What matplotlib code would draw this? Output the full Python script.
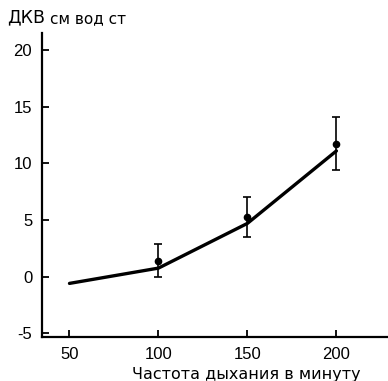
import matplotlib
matplotlib.use("Agg")
import matplotlib.pyplot as plt

plt.rcParams['font.family'] = ['Liberation Sans', 'DejaVu Sans']
plt.rcParams['axes.unicode_minus'] = False

# Breathing rate vs. dead-space pressure
rate = [50, 100, 150, 200]
curve = [-0.6, 0.75, 4.7, 11.1]

pt_rate = [100, 150, 200]
pt_mean = [1.35, 5.3, 11.7]
pt_low = [0.0, 3.5, 9.4]
pt_high = [2.9, 7.0, 14.1]

xticks = [50, 100, 150, 200]
yticks = [-5, 0, 5, 10, 15, 20]

fig = plt.figure(figsize=(3.88, 3.81), dpi=100)
ax = fig.add_axes([0.108, 0.115, 0.892, 0.798])

ax.plot(rate, curve, color='black', lw=2.4, solid_capstyle='round')
yerr = [[m - lo for m, lo in zip(pt_mean, pt_low)],
        [hi - m for m, hi in zip(pt_mean, pt_high)]]
ax.errorbar(pt_rate, pt_mean, yerr=yerr, fmt='o', color='black',
            ms=4.5, elinewidth=1.2, capsize=3, capthick=1.2)

ax.set_xlim(34.5, 229)
ax.set_ylim(-5.35, 21.5)
ax.set_xticks(xticks)
ax.set_yticks(yticks)
ax.tick_params(direction='in', length=5, width=1.3, labelsize=12, pad=7)
for s in ['top', 'right']:
    ax.spines[s].set_visible(False)
for s in ['left', 'bottom']:
    ax.spines[s].set_linewidth(1.6)

fig.text(0.634, 0.018, 'Частота дыхания в минуту', fontsize=11.5,
         ha='center', va='center', family=['DejaVu Sans'])
fig.text(0.018, 0.955, 'ДКВ', fontsize=12.5, va='center', ha='left',
         family=['DejaVu Sans'])
fig.text(0.128, 0.951, 'см вод ст', fontsize=11, va='center', ha='left',
         family=['DejaVu Sans'])

fig.savefig('out.png', dpi=100)
